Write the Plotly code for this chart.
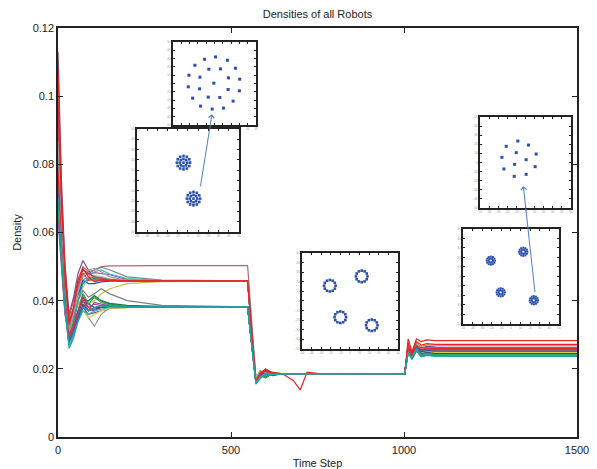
import plotly.graph_objects as go

# ---------------- main density data ----------------
T1 = [0, 10, 20, 32, 45, 58, 72, 88, 105, 125, 150, 200, 300, 548]
T2 = [572, 585, 600, 620, 650, 680, 700, 720, 750, 1002]
T3 = [1012, 1023, 1036, 1050, 1066, 1090, 1130, 1500]

LINE_COLORS = [
    "#a07070", "#7a4a8a", "#808080", "#c040a0", "#30c0c8", "#c8c040",
    "#2a9040", "#3050a8", "#d0c090", "#e05030", "#808080", "#909090",
    "#8a3a8a", "#d8d050", "#2a9040", "#1e7a4a", "#b040a8", "#b0b040",
    "#3050a8", "#2840a0", "#20a0a8", "#4060c0", "#9050a0", "#3aa050",
    "#a0a0a0", "#e3262b", "#e3262b", "#e3262b", "#30b8c0", "#17a0a0",
]

DENSITY_P1 = [
    [0.100, 0.069, 0.048, 0.035, 0.040, 0.046, 0.050, 0.0485, 0.049, 0.0500, 0.0502, 0.0503, 0.0503, 0.0503],
    [0.113, 0.075, 0.051, 0.036, 0.041, 0.048, 0.0518, 0.049, 0.046, 0.0462, 0.0460, 0.0458, 0.0458, 0.0458],
    [0.092, 0.065, 0.046, 0.032, 0.037, 0.044, 0.048, 0.0480, 0.049, 0.0498, 0.0490, 0.0470, 0.0460, 0.0458],
    [0.090, 0.064, 0.045, 0.033, 0.037, 0.043, 0.047, 0.0478, 0.0482, 0.0480, 0.0476, 0.0462, 0.0458, 0.0458],
    [0.085, 0.062, 0.044, 0.032, 0.036, 0.042, 0.046, 0.0470, 0.0485, 0.0490, 0.0478, 0.0465, 0.0459, 0.0458],
    [0.080, 0.060, 0.043, 0.033, 0.035, 0.039, 0.041, 0.0390, 0.0400, 0.0420, 0.0435, 0.0450, 0.0456, 0.0457],
    [0.082, 0.061, 0.044, 0.030, 0.034, 0.041, 0.045, 0.0460, 0.0465, 0.0463, 0.0460, 0.0458, 0.0458, 0.0458],
    [0.088, 0.063, 0.045, 0.029, 0.033, 0.041, 0.046, 0.0450, 0.0450, 0.0455, 0.0457, 0.0458, 0.0458, 0.0458],
    [0.078, 0.058, 0.042, 0.031, 0.035, 0.041, 0.044, 0.0470, 0.0475, 0.0470, 0.0465, 0.0460, 0.0458, 0.0458],
    [0.095, 0.066, 0.046, 0.031, 0.036, 0.044, 0.048, 0.0460, 0.0460, 0.0462, 0.0460, 0.0459, 0.0458, 0.0458],
    [0.085, 0.062, 0.044, 0.031, 0.035, 0.040, 0.043, 0.0410, 0.0420, 0.0435, 0.0420, 0.0400, 0.0386, 0.0382],
    [0.065, 0.050, 0.037, 0.029, 0.032, 0.036, 0.039, 0.0350, 0.0325, 0.0360, 0.0380, 0.0382, 0.0382, 0.0382],
    [0.068, 0.051, 0.037, 0.027, 0.030, 0.035, 0.038, 0.0360, 0.0365, 0.0370, 0.0377, 0.0380, 0.0382, 0.0382],
    [0.066, 0.050, 0.037, 0.030, 0.032, 0.035, 0.037, 0.0350, 0.0360, 0.0370, 0.0378, 0.0380, 0.0382, 0.0382],
    [0.072, 0.054, 0.039, 0.028, 0.031, 0.036, 0.040, 0.0400, 0.0410, 0.0400, 0.0390, 0.0383, 0.0382, 0.0382],
    [0.074, 0.055, 0.040, 0.028, 0.031, 0.035, 0.038, 0.0400, 0.0415, 0.0400, 0.0392, 0.0386, 0.0383, 0.0382],
    [0.069, 0.052, 0.038, 0.028, 0.031, 0.036, 0.040, 0.0380, 0.0390, 0.0385, 0.0383, 0.0382, 0.0382, 0.0382],
    [0.067, 0.051, 0.038, 0.031, 0.033, 0.036, 0.039, 0.0370, 0.0380, 0.0380, 0.0382, 0.0382, 0.0382, 0.0382],
    [0.075, 0.055, 0.040, 0.027, 0.030, 0.035, 0.039, 0.0370, 0.0375, 0.0380, 0.0382, 0.0382, 0.0382, 0.0382],
    [0.073, 0.054, 0.039, 0.030, 0.033, 0.037, 0.042, 0.0390, 0.0380, 0.0380, 0.0382, 0.0382, 0.0382, 0.0382],
    [0.076, 0.057, 0.041, 0.029, 0.033, 0.040, 0.045, 0.0465, 0.0470, 0.0468, 0.0462, 0.0459, 0.0458, 0.0458],
    [0.071, 0.053, 0.039, 0.028, 0.031, 0.036, 0.041, 0.0390, 0.0380, 0.0385, 0.0383, 0.0382, 0.0382, 0.0382],
    [0.064, 0.049, 0.036, 0.030, 0.033, 0.037, 0.040, 0.0370, 0.0395, 0.0390, 0.0385, 0.0382, 0.0382, 0.0382],
    [0.069, 0.052, 0.038, 0.029, 0.032, 0.037, 0.042, 0.0390, 0.0410, 0.0395, 0.0387, 0.0383, 0.0382, 0.0382],
    [0.087, 0.063, 0.045, 0.031, 0.036, 0.043, 0.047, 0.0490, 0.0495, 0.0485, 0.0470, 0.0460, 0.0458, 0.0458],
    [0.098, 0.068, 0.047, 0.033, 0.038, 0.045, 0.049, 0.0480, 0.0470, 0.0465, 0.0460, 0.0458, 0.0458, 0.0458],
    [0.078, 0.057, 0.041, 0.029, 0.032, 0.037, 0.041, 0.0380, 0.0370, 0.0380, 0.0381, 0.0382, 0.0382, 0.0382],
    [0.108, 0.072, 0.050, 0.034, 0.038, 0.046, 0.0495, 0.0470, 0.0455, 0.0460, 0.0458, 0.0458, 0.0458, 0.0458],
    [0.070, 0.053, 0.039, 0.027, 0.030, 0.034, 0.037, 0.0360, 0.0370, 0.0375, 0.0380, 0.0382, 0.0382, 0.0382],
    [0.070, 0.052, 0.038, 0.026, 0.029, 0.034, 0.038, 0.0370, 0.0380, 0.0385, 0.0383, 0.0382, 0.0382, 0.0382],
]

DENSITY_P2 = [
    [0.0170, 0.0190, 0.0185, 0.0187, 0.0185, 0.0185, 0.0185, 0.0185, 0.0185, 0.0185],
    [0.0165, 0.0180, 0.0195, 0.0185, 0.0184, 0.0185, 0.0185, 0.0185, 0.0185, 0.0185],
    [0.0175, 0.0195, 0.0180, 0.0188, 0.0185, 0.0185, 0.0185, 0.0185, 0.0185, 0.0185],
    [0.0160, 0.0178, 0.0200, 0.0186, 0.0185, 0.0185, 0.0185, 0.0185, 0.0185, 0.0185],
    [0.0168, 0.0185, 0.0190, 0.0183, 0.0186, 0.0185, 0.0185, 0.0185, 0.0185, 0.0185],
    [0.0172, 0.0192, 0.0183, 0.0190, 0.0185, 0.0185, 0.0185, 0.0185, 0.0185, 0.0185],
    [0.0162, 0.0176, 0.0192, 0.0182, 0.0185, 0.0185, 0.0185, 0.0185, 0.0185, 0.0185],
    [0.0158, 0.0182, 0.0188, 0.0180, 0.0186, 0.0185, 0.0185, 0.0185, 0.0185, 0.0185],
    [0.0170, 0.0188, 0.0178, 0.0186, 0.0185, 0.0185, 0.0185, 0.0185, 0.0185, 0.0185],
    [0.0163, 0.0185, 0.0193, 0.0184, 0.0185, 0.0185, 0.0185, 0.0185, 0.0185, 0.0185],
    [0.0166, 0.0174, 0.0190, 0.0187, 0.0185, 0.0185, 0.0185, 0.0185, 0.0185, 0.0185],
    [0.0170, 0.0183, 0.0192, 0.0185, 0.0185, 0.0185, 0.0185, 0.0185, 0.0185, 0.0185],
    [0.0158, 0.0175, 0.0198, 0.0188, 0.0184, 0.0185, 0.0185, 0.0185, 0.0185, 0.0185],
    [0.0172, 0.0195, 0.0185, 0.0190, 0.0185, 0.0185, 0.0185, 0.0185, 0.0185, 0.0185],
    [0.0165, 0.0182, 0.0173, 0.0188, 0.0185, 0.0185, 0.0185, 0.0185, 0.0185, 0.0185],
    [0.0162, 0.0180, 0.0176, 0.0186, 0.0185, 0.0185, 0.0185, 0.0185, 0.0185, 0.0185],
    [0.0160, 0.0190, 0.0196, 0.0183, 0.0185, 0.0185, 0.0185, 0.0185, 0.0185, 0.0185],
    [0.0175, 0.0192, 0.0184, 0.0187, 0.0185, 0.0185, 0.0185, 0.0185, 0.0185, 0.0185],
    [0.0157, 0.0178, 0.0190, 0.0184, 0.0185, 0.0185, 0.0185, 0.0185, 0.0185, 0.0185],
    [0.0163, 0.0186, 0.0182, 0.0186, 0.0185, 0.0185, 0.0185, 0.0185, 0.0185, 0.0185],
    [0.0161, 0.0187, 0.0197, 0.0184, 0.0185, 0.0185, 0.0185, 0.0185, 0.0185, 0.0185],
    [0.0159, 0.0181, 0.0186, 0.0185, 0.0185, 0.0185, 0.0185, 0.0185, 0.0185, 0.0185],
    [0.0167, 0.0193, 0.0188, 0.0184, 0.0185, 0.0185, 0.0185, 0.0185, 0.0185, 0.0185],
    [0.0164, 0.0179, 0.0175, 0.0187, 0.0185, 0.0185, 0.0185, 0.0185, 0.0185, 0.0185],
    [0.0171, 0.0194, 0.0189, 0.0185, 0.0185, 0.0185, 0.0185, 0.0185, 0.0185, 0.0185],
    [0.0162, 0.0189, 0.0199, 0.0187, 0.0185, 0.0185, 0.0185, 0.0185, 0.0185, 0.0185],
    [0.0160, 0.0184, 0.0194, 0.0186, 0.0185, 0.0185, 0.0185, 0.0185, 0.0185, 0.0185],
    [0.0160, 0.0188, 0.0195, 0.0190, 0.0185, 0.0166, 0.0138, 0.0190, 0.0187, 0.0185],
    [0.0158, 0.0176, 0.0186, 0.0183, 0.0185, 0.0185, 0.0185, 0.0185, 0.0185, 0.0185],
    [0.0155, 0.0172, 0.0185, 0.0185, 0.0185, 0.0185, 0.0185, 0.0185, 0.0185, 0.0185],
]

DENSITY_P3 = [
    [0.0262, 0.0240, 0.0270, 0.0258, 0.0263, 0.0261, 0.0261, 0.0261],
    [0.0270, 0.0245, 0.0275, 0.0262, 0.0266, 0.0264, 0.0263, 0.0263],
    [0.0265, 0.0242, 0.0272, 0.0255, 0.0260, 0.0258, 0.0258, 0.0258],
    [0.0260, 0.0238, 0.0268, 0.0252, 0.0258, 0.0256, 0.0256, 0.0256],
    [0.0255, 0.0235, 0.0262, 0.0247, 0.0252, 0.0249, 0.0248, 0.0248],
    [0.0255, 0.0236, 0.0262, 0.0245, 0.0250, 0.0248, 0.0247, 0.0247],
    [0.0250, 0.0232, 0.0258, 0.0240, 0.0245, 0.0243, 0.0243, 0.0243],
    [0.0262, 0.0240, 0.0268, 0.0255, 0.0260, 0.0258, 0.0257, 0.0257],
    [0.0268, 0.0244, 0.0273, 0.0265, 0.0270, 0.0270, 0.0270, 0.0270],
    [0.0258, 0.0236, 0.0265, 0.0250, 0.0255, 0.0253, 0.0253, 0.0253],
    [0.0262, 0.0238, 0.0268, 0.0257, 0.0261, 0.0260, 0.0260, 0.0260],
    [0.0252, 0.0232, 0.0258, 0.0245, 0.0250, 0.0248, 0.0248, 0.0248],
    [0.0263, 0.0240, 0.0270, 0.0258, 0.0262, 0.0261, 0.0261, 0.0261],
    [0.0255, 0.0236, 0.0262, 0.0246, 0.0250, 0.0248, 0.0248, 0.0248],
    [0.0248, 0.0230, 0.0255, 0.0237, 0.0240, 0.0238, 0.0238, 0.0238],
    [0.0250, 0.0231, 0.0256, 0.0238, 0.0241, 0.0238, 0.0238, 0.0238],
    [0.0260, 0.0238, 0.0266, 0.0254, 0.0258, 0.0256, 0.0256, 0.0256],
    [0.0266, 0.0242, 0.0272, 0.0266, 0.0270, 0.0269, 0.0269, 0.0269],
    [0.0258, 0.0236, 0.0265, 0.0250, 0.0254, 0.0252, 0.0252, 0.0252],
    [0.0254, 0.0234, 0.0260, 0.0244, 0.0248, 0.0245, 0.0245, 0.0245],
    [0.0252, 0.0233, 0.0259, 0.0242, 0.0246, 0.0240, 0.0240, 0.0240],
    [0.0264, 0.0241, 0.0269, 0.0259, 0.0263, 0.0262, 0.0262, 0.0262],
    [0.0261, 0.0239, 0.0267, 0.0256, 0.0259, 0.0257, 0.0257, 0.0257],
    [0.0249, 0.0231, 0.0256, 0.0239, 0.0243, 0.0240, 0.0240, 0.0240],
    [0.0263, 0.0240, 0.0269, 0.0257, 0.0262, 0.0260, 0.0260, 0.0260],
    [0.0275, 0.0246, 0.0280, 0.0270, 0.0274, 0.0272, 0.0272, 0.0272],
    [0.0262, 0.0240, 0.0268, 0.0256, 0.0261, 0.0259, 0.0259, 0.0259],
    [0.0288, 0.0250, 0.0288, 0.0280, 0.0285, 0.0283, 0.0283, 0.0283],
    [0.0248, 0.0229, 0.0254, 0.0236, 0.0240, 0.0238, 0.0238, 0.0238],
    [0.0246, 0.0228, 0.0252, 0.0235, 0.0239, 0.0238, 0.0238, 0.0238],
]

X_TICKS = [0, 500, 1000, 1500]
X_TICK_LABELS = ["0", "500", "1000", "1500"]
Y_TICKS = [0, 0.02, 0.04, 0.06, 0.08, 0.1, 0.12]
Y_TICK_LABELS = ["0", "0.02", "0.04", "0.06", "0.08", "0.1", "0.12"]

# ---------------- inset (robot formation) data ----------------
RING12 = [(1.0, 0.0), (0.87, 0.5), (0.5, 0.87), (0.0, 1.0), (-0.5, 0.87), (-0.87, 0.5),
          (-1.0, 0.0), (-0.87, -0.5), (-0.5, -0.87), (0.0, -1.0), (0.5, -0.87), (0.87, -0.5)]
RING8 = [(1.0, 0.0), (0.71, 0.71), (0.0, 1.0), (-0.71, 0.71), (-1.0, 0.0), (-0.71, -0.71),
         (0.0, -1.0), (0.71, -0.71)]

INSET_A_X = [38, 51.2, 65.6, 26.4, 43.2, 57.2, 75.2, 19.2, 32.4, 66.8, 80.4, 49.2, 18.4, 32, 66.4, 80,
             23.6, 42.4, 56.4, 72.4, 33.2, 47.2, 60.8]
INSET_A_Y = [79.2, 82, 78, 72, 67.2, 67.6, 68.4, 60, 57.6, 56.8, 55.2, 50.4, 46, 43.6, 42.8, 41.2,
             32.4, 33.6, 33.2, 28.8, 22.8, 19.2, 20.4]
CLUSTER_B_CENTERS = [(45.6, 67.3), (55.4, 32.4)]
CLUSTER_B_RADII = [6.5, 3.6]
RING_C_CENTERS = [(29, 65.9), (62.2, 75.6), (39.9, 33.1), (72.7, 24.7)]
RING_C_RADIUS = 6.0
INSET_D_X = [41.6, 28.8, 53.3, 39.8, 24.1, 61.7, 50.7, 38.0, 26.3, 60.6, 37.6, 50.7]
INSET_D_Y = [73.6, 67.8, 69.2, 60.8, 55.7, 59.3, 53.1, 48.0, 42.9, 45.4, 34.8, 37.0]
CLUSTER_E_CENTERS = [(29, 66.7), (62.8, 76), (39.3, 33.3), (73.8, 25)]
CLUSTER_E_RADII = [4.3, 2.2]
INSET_TICKS = [0, 10, 20, 30, 40, 50, 60, 70, 80, 90, 100]
INSET_TICK_LABELS = ["-50", "-40", "-30", "-20", "-10", "0", "10", "20", "30", "40", "50"]

# arrows (main axis coordinates): tail -> head
ARROW_TAILS = [(411, 0.0731), (1379, 0.0420)]
ARROW_HEADS = [(445, 0.0947), (1345, 0.0736)]

FONT = "Liberation Sans, Arial, Helvetica, sans-serif"
DOT_COLOR = "#2b4fae"

fig = go.Figure()

for color, p1, p2, p3 in zip(LINE_COLORS, DENSITY_P1, DENSITY_P2, DENSITY_P3):
    fig.add_trace(go.Scatter(
        x=T1 + T2 + T3, y=p1 + p2 + p3, mode="lines",
        line=dict(color=color, width=1.2), hoverinfo="skip", showlegend=False,
        xaxis="x", yaxis="y"))


def cluster_points(centers, radii, rings, center_dot=True):
    xs, ys = [], []
    for cx, cy in centers:
        for r, ring in zip(radii, rings):
            for dx, dy in ring:
                xs.append(cx + r * dx)
                ys.append(cy + r * dy)
        if center_dot:
            xs.append(cx)
            ys.append(cy)
    return xs, ys


def add_dots(xs, ys, idx, size):
    fig.add_trace(go.Scatter(
        x=xs, y=ys, mode="markers", xaxis=f"x{idx}", yaxis=f"y{idx}",
        marker=dict(symbol="square", size=size, color=DOT_COLOR, line=dict(width=0)),
        hoverinfo="skip", showlegend=False))


add_dots(INSET_A_X, INSET_A_Y, 2, 3)
bx, by = cluster_points(CLUSTER_B_CENTERS, CLUSTER_B_RADII, [RING12, RING8])
add_dots(bx, by, 3, 2.6)
cx_, cy_ = cluster_points(RING_C_CENTERS, [RING_C_RADIUS], [RING12], center_dot=False)
add_dots(cx_, cy_, 4, 2.6)
add_dots(INSET_D_X, INSET_D_Y, 5, 3)
ex, ey = cluster_points(CLUSTER_E_CENTERS, CLUSTER_E_RADII, [RING12, RING8], center_dot=False)
add_dots(ex, ey, 6, 2)

INSET_DOMAINS = {
    2: ([0.2216, 0.3815], [0.7628, 0.9658]),
    3: ([0.1522, 0.3487], [0.5012, 0.7531]),
    4: ([0.4701, 0.6551], [0.2152, 0.4499]),
    5: ([0.8131, 0.9884], [0.5599, 0.7824]),
    6: ([0.7803, 0.9653], [0.2763, 0.5086]),
}

axis_font = dict(family=FONT, size=11, color="#222")
layout = dict(
    width=597, height=469,
    margin=dict(l=58, r=20, t=28, b=32),
    paper_bgcolor="white", plot_bgcolor="white",
    font=dict(family=FONT, size=11, color="#222"),
    title=dict(text="Densities of all Robots", x=0.5, xref="paper", xanchor="center",
               y=0.970, yref="container", yanchor="middle",
               font=dict(family=FONT, size=11, color="#222")),
    xaxis=dict(range=[0, 1500], tickvals=X_TICKS, ticktext=X_TICK_LABELS, automargin=False,
               showline=True, mirror="ticks", linecolor="#222", linewidth=1.5,
               ticks="inside", ticklen=5, tickcolor="#222", tickwidth=1,
               showgrid=False, zeroline=False, tickfont=axis_font, ticklabelstandoff=2,
               title=dict(text="Time Step", font=axis_font, standoff=4)),
    yaxis=dict(range=[0, 0.12], tickvals=Y_TICKS, ticktext=Y_TICK_LABELS, automargin=False,
               showline=True, mirror="ticks", linecolor="#222", linewidth=1.5,
               ticks="inside", ticklen=5, tickcolor="#222", tickwidth=1,
               showgrid=False, zeroline=False, tickfont=axis_font,
               title=dict(text="Density", font=axis_font, standoff=9)),
)

for i, (xd, yd) in INSET_DOMAINS.items():
    common = dict(range=[0, 100], tickvals=INSET_TICKS, ticktext=INSET_TICK_LABELS,
                  showline=True, mirror="ticks", linecolor="#222", linewidth=1.5,
                  ticks="inside", ticklen=2, tickcolor="#222", tickwidth=1,
                  showgrid=False, zeroline=False, fixedrange=True, automargin=False,
                  tickfont=dict(family=FONT, size=3, color="#999"))
    layout[f"xaxis{i}"] = dict(domain=xd, anchor=f"y{i}", **common)
    layout[f"yaxis{i}"] = dict(domain=yd, anchor=f"x{i}", **common)

annotations = []
for (tx, ty), (hx, hy) in zip(ARROW_TAILS, ARROW_HEADS):
    annotations.append(dict(
        x=hx, y=hy, xref="x", yref="y", ax=tx, ay=ty, axref="x", ayref="y",
        text="", showarrow=True, arrowhead=4, arrowsize=1.1, arrowwidth=1,
        arrowcolor="#4a80c8"))
layout["annotations"] = annotations

fig.update_layout(**layout)
fig.write_html("out.html")
